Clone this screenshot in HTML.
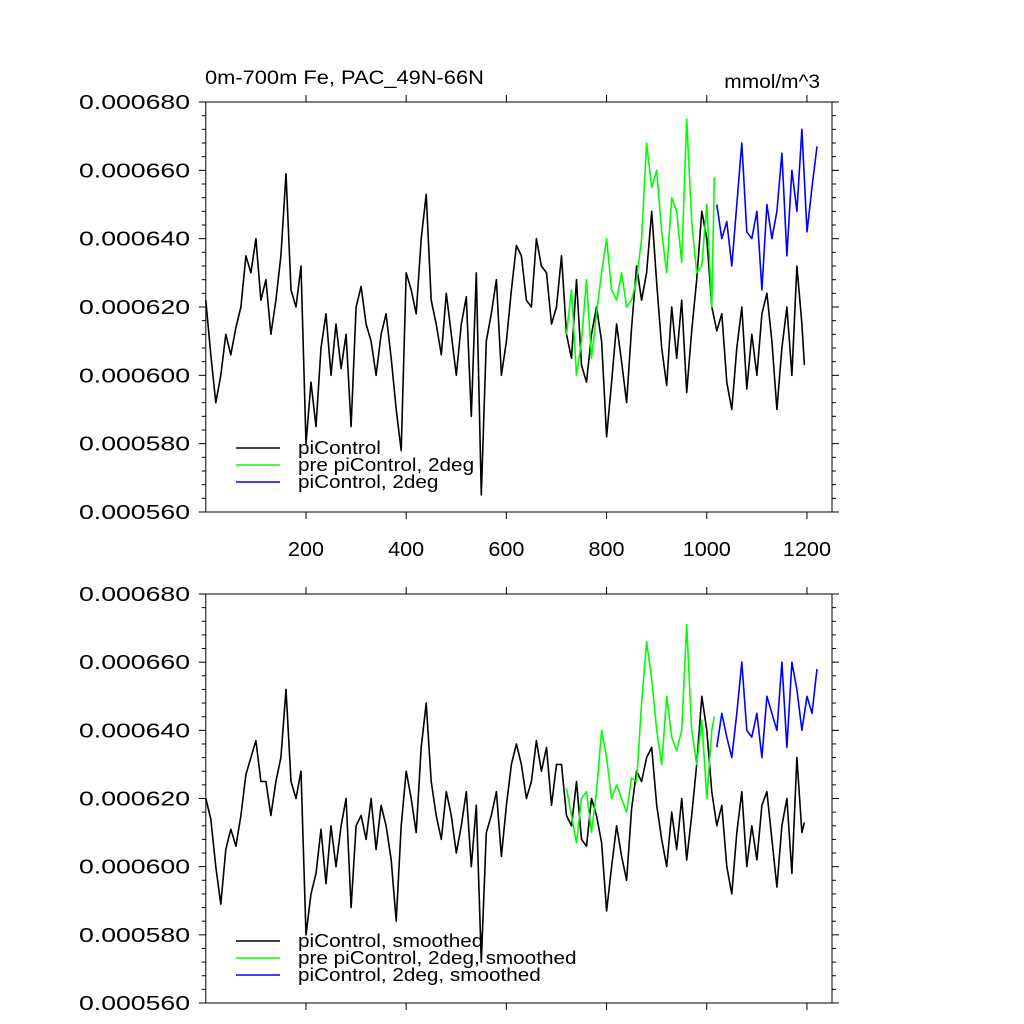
<!DOCTYPE html>
<html><head><meta charset="utf-8"><style>
body{margin:0;background:#fff;}
svg{display:block;font-family:"Liberation Sans",sans-serif;}
</style></head><body>
<svg id="chart" width="1024" height="1024" viewBox="0 0 1024 1024"></svg>
<script>
const piYears=[0,10,20,30,40,50,60,70,80,90,100,110,120,130,140,150,160,170,180,190,200,210,220,230,240,250,260,270,280,290,300,310,320,330,340,350,360,370,380,390,400,410,420,430,440,450,460,470,480,490,500,510,520,530,540,550,560,570,580,590,600,610,620,630,640,650,660,670,680,690,700,710,720,730,740,750,760,770,780,790,800,810,820,830,840,850,860,870,880,890,900,910,920,930,940,950,960,970,980,990,1000,1010,1020,1030,1040,1050,1060,1070,1080,1090,1100,1110,1120,1130,1140,1150,1160,1170,1180,1190,1195];
const piRaw=[622,606,592,600,612,606,614,620,635,630,640,622,628,612,622,635,659,625,620,632,580,598,585,608,618,600,615,602,612,585,620,626,615,610,600,612,618,605,590,578,630,625,618,640,653,622,615,606,624,612,600,615,623,588,630,565,610,618,628,600,610,625,638,635,622,620,640,632,630,615,620,635,612,605,628,603,598,612,620,610,582,598,615,604,592,614,632,622,630,648,627,608,597,620,605,622,595,613,628,648,640,620,613,618,598,590,608,620,596,612,600,618,624,610,590,608,620,600,632,615,603];
const piSmooth=[620,614,600,589,605,611,606,615,627,632,637,625,625,615,625,632,652,625,620,628,580,592,598,611,595,612,600,612,620,588,612,615,608,620,605,618,612,602,584,612,628,620,610,635,648,625,615,608,622,615,604,612,622,600,618,572,610,615,622,603,618,630,636,630,620,625,637,628,635,618,630,630,615,612,625,608,606,620,615,607,587,600,612,603,596,617,628,625,632,635,618,608,600,616,605,620,602,615,630,650,640,622,612,618,600,592,610,622,600,612,602,618,622,608,594,612,620,598,632,610,613];
const preYears=[720,730,740,750,760,770,780,790,800,810,820,830,840,850,860,870,880,890,900,910,920,930,940,950,960,970,980,990,1000,1010,1015];
const preRaw=[612,625,600,610,628,605,618,630,640,625,622,630,620,622,628,640,668,655,660,642,630,652,648,633,675,645,630,632,650,620,658];
const preSmooth=[623,615,607,620,622,610,622,640,632,620,624,620,616,626,625,648,666,655,640,630,650,638,634,640,671,640,630,643,620,640,644];
const twoYears=[1020,1030,1040,1050,1060,1070,1080,1090,1100,1110,1120,1130,1140,1150,1160,1170,1180,1190,1200,1210,1220];
const twoRaw=[650,640,645,632,650,668,642,640,648,625,650,640,648,665,635,660,648,672,642,655,667];
const twoSmooth=[635,645,638,632,645,660,640,638,645,632,650,645,640,660,635,660,652,640,650,645,658];
const yTicks=[560,580,600,620,640,660,680];
const yTickLabels=["0.000560","0.000580","0.000600","0.000620","0.000640","0.000660","0.000680"];
const xTicks=[200,400,600,800,1000,1200];

const NS="http://www.w3.org/2000/svg";
const svg=document.getElementById('chart');
const X0=205.8,X1=832,XMIN=0,XMAX=1250;
function xs(v){return X0+(v-XMIN)/(XMAX-XMIN)*(X1-X0);}
function mk(tag,attrs,parent){const e=document.createElementNS(NS,tag);for(const k in attrs)e.setAttribute(k,attrs[k]);(parent||svg).appendChild(e);return e;}
function widen(t,r){const w=t.getComputedTextLength();t.setAttribute('textLength',(w*r).toFixed(1));t.setAttribute('lengthAdjust','spacingAndGlyphs');}

function panel(top,bot,name,series,legendY,showXLabels){
  const g=mk('g',{});
  
  
  function ys(v){return bot-(v-560)/120*(bot-top);}
  series.forEach(s=>{
    let d='';
    s.x.forEach((xv,i)=>{d+=(i?'L':'M')+xs(xv).toFixed(1)+','+ys(s.y[i]).toFixed(1);});
    const p=mk('path',{d:d,fill:'none',stroke:s.color,'stroke-width':1.6,'stroke-linejoin':'round'},g);
    
    
  });
  const f=mk('rect',{x:X0,y:top,width:X1-X0,height:bot-top,fill:'none',stroke:'#000','stroke-width':1},g);
  
  
  for(let v=560;v<=680;v+=4){
    const major=(v-560)%20===0;const L=major?7:4;const y=ys(v);
    mk('line',{x1:X0-L,x2:X0,y1:y,y2:y,stroke:'#000','stroke-width':1},g);
    mk('line',{x1:X1,x2:X1+L,y1:y,y2:y,stroke:'#000','stroke-width':1},g);
  }
  yTicks.forEach((v,i)=>{
    const t=mk('text',{x:190,y:ys(v)+7,'text-anchor':'end','font-size':20},g);
    t.textContent=yTickLabels[i];
    
    
    widen(t,1.33);
  });
  xTicks.forEach(v=>{
    const x=xs(v);
    mk('line',{x1:x,x2:x,y1:top-7,y2:top,stroke:'#000','stroke-width':1},g);
    mk('line',{x1:x,x2:x,y1:bot,y2:bot+7,stroke:'#000','stroke-width':1},g);
    if(showXLabels){
      const t=mk('text',{x:x,y:bot+44,'text-anchor':'middle','font-size':20},g);
      t.textContent=String(v);
      
      
      widen(t,1.08);
    }
  });
  series.forEach((s,i)=>{
    const y=legendY+i*17;
    const l=mk('line',{x1:236,x2:280,y1:y,y2:y,stroke:s.color,'stroke-width':1.6},g);
    
    
    const t=mk('text',{x:298,y:y+6,'font-size':18},g);
    t.textContent=s.label;
    
    
    widen(t,1.15);
  });
}
panel(102,512,'top-panel-raw',[
 {x:piYears,y:piRaw,color:'#000',name:'line-picontrol',label:'piControl'},
 {x:preYears,y:preRaw,color:'#00ff00',name:'line-pre-picontrol-2deg',label:'pre piControl, 2deg'},
 {x:twoYears,y:twoRaw,color:'#0000ff',name:'line-picontrol-2deg',label:'piControl, 2deg'}],448,true);
panel(594,1003,'bottom-panel-smoothed',[
 {x:piYears,y:piSmooth,color:'#000',name:'line-picontrol-smoothed',label:'piControl, smoothed'},
 {x:preYears,y:preSmooth,color:'#00ff00',name:'line-pre-picontrol-2deg-smoothed',label:'pre piControl, 2deg, smoothed'},
 {x:twoYears,y:twoSmooth,color:'#0000ff',name:'line-picontrol-2deg-smoothed',label:'piControl, 2deg, smoothed'}],941,false);
const t1=mk('text',{x:205,y:84,'font-size':19});
t1.textContent='0m-700m Fe, PAC_49N-66N';


widen(t1,1.15);
const t2=mk('text',{x:820,y:88,'font-size':19,'text-anchor':'end'});
t2.textContent='mmol/m^3';


widen(t2,1.1);
</script>
</body></html>
